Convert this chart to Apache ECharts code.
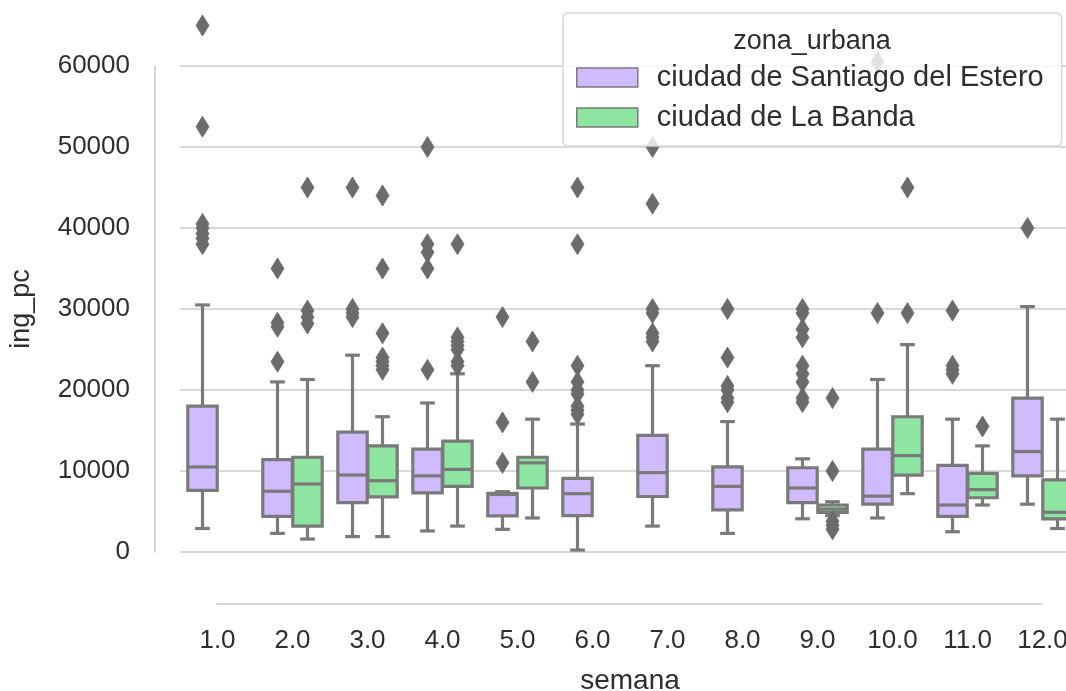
<!DOCTYPE html>
<html><head><meta charset="utf-8">
<script src="https://cdn.jsdelivr.net/npm/echarts@6/dist/echarts.min.js"></script>
<style>html,body{margin:0;padding:0;background:#fff}#c{width:1066px;height:691px}</style>
</head><body><div id="c"></div>
<script>
// ---- data ----
const weeks = ['1.0','2.0','3.0','4.0','5.0','6.0','7.0','8.0','9.0','10.0','11.0','12.0'];
const seriesNames = ['ciudad de Santiago del Estero', 'ciudad de La Banda'];
// [lower whisker, Q1, median, Q3, upper whisker]
const santiagoStats = [
  [2900, 7600, 10500, 18000, 30500],
  [2300, 4400, 7500, 11400, 21000],
  [1900, 6100, 9500, 14800, 24300],
  [2600, 7300, 9400, 12700, 18400],
  [2800, 4450, 7100, 7250, 7450],
  [240, 4500, 7200, 9100, 15800],
  [3200, 6850, 9800, 14400, 23000],
  [2300, 5200, 8100, 10500, 16100],
  [4100, 6100, 7900, 10400, 11500],
  [4200, 5900, 6900, 12700, 21300],
  [2500, 4400, 5800, 10700, 16400],
  [5900, 9400, 12400, 19000, 30300]
];
const bandaStats = [
  null,
  [1600, 3200, 8400, 11700, 21300],
  [1900, 6800, 8800, 13100, 16700],
  [3200, 8100, 10200, 13700, 22000],
  [4200, 7900, 11000, 11700, 16400],
  null,
  null,
  null,
  [4500, 4900, 5300, 5800, 6200],
  [7200, 9500, 11900, 16700, 25600],
  [5800, 6700, 7700, 9700, 13100],
  [2900, 4100, 4900, 8900, 16400]
];
const santiagoOutliers = [
  [65000, 52500, 40500, 40000, 39300, 38700, 38000],
  [35000, 28300, 27800, 23500],
  [45000, 30000, 29500, 29000],
  [50000, 38000, 37000, 35000, 22500],
  [29000, 16000, 11000],
  [45000, 38000, 23000, 21000, 20000, 19500, 18000, 17500, 17000],
  [50000, 43000, 30000, 29500, 27000, 26500, 26000],
  [30000, 24000, 20500, 20000, 19000, 18500],
  [30000, 29500, 27500, 26500, 23000, 22000, 21000, 19000, 18500],
  [60500, 29500],
  [29800, 23000, 22500, 22000],
  [40000]
];
const bandaOutliers = [
  [],
  [45000, 29800, 29000, 28200],
  [44000, 35000, 27000, 24000, 23500, 23000, 22500],
  [38000, 26500, 26000, 25500, 25000, 23500, 23000],
  [26000, 21000],
  [],
  [],
  [],
  [19000, 10000, 3800, 3300, 2800],
  [45000, 29500],
  [15500],
  []
];
const yMin = 0, yMax = 60000, yStep = 10000;

// ---- styling ----
const PURPLE = '#d0bbff', GREEN = '#8de5a1', GRAY = '#7a7a7a', FLIER = '#6b6b6b';
const FONT = 'Liberation Sans, Arial, sans-serif';
const TXT = '#2e2e2e';
const LW = 3.2;

function boxData(stats) {
  const out = [];
  stats.forEach((s, i) => { if (s) out.push([i].concat(s)); });
  return out;
}
function flierData(list) {
  const out = [];
  list.forEach((vals, i) => { (vals || []).forEach(v => out.push([i, v])); });
  return out;
}
function boxRenderer(side, fill) {
  return function (params, api) {
    const cat = api.value(0);
    const band = api.size([1, 0])[0];
    const xc = api.coord([cat, 0])[0] + side * 0.2 * band;
    const w = band * 0.4 * 0.98;
    const half = w / 2, capHalf = w / 4;
    const py = v => api.coord([cat, v])[1];
    const lo = py(api.value(1)), q1 = py(api.value(2)), md = py(api.value(3)),
          q3 = py(api.value(4)), hi = py(api.value(5));
    const ls = { stroke: GRAY, lineWidth: LW };
    return { type: 'group', children: [
      { type: 'line', shape: { x1: xc, y1: q1, x2: xc, y2: lo }, style: ls },
      { type: 'line', shape: { x1: xc, y1: q3, x2: xc, y2: hi }, style: ls },
      { type: 'line', shape: { x1: xc - capHalf, y1: lo, x2: xc + capHalf, y2: lo }, style: ls },
      { type: 'line', shape: { x1: xc - capHalf, y1: hi, x2: xc + capHalf, y2: hi }, style: ls },
      { type: 'rect', shape: { x: xc - half, y: q3, width: w, height: q1 - q3 }, style: { fill: fill, stroke: GRAY, lineWidth: LW } },
      { type: 'line', shape: { x1: xc - half, y1: md, x2: xc + half, y2: md }, style: ls }
    ] };
  };
}
function flierRenderer(side) {
  return function (params, api) {
    const cat = api.value(0);
    const band = api.size([1, 0])[0];
    const p = api.coord([cat, api.value(1)]);
    const x = p[0] + side * 0.2 * band, y = p[1];
    const hw = 6.5, hh = 10.5;
    return { type: 'polygon', shape: { points: [[x, y - hh], [x + hw, y], [x, y + hh], [x - hw, y]] },
             style: { fill: FLIER, stroke: FLIER, lineWidth: 0.8 } };
  };
}

const chart = echarts.init(document.getElementById('c'), null, { renderer: 'canvas' });
chart.setOption({
  animation: false,
  backgroundColor: '#ffffff',
  grid: [
    { left: 180, top: 66, width: 900, bottom: 139, containLabel: false, outerBoundsMode: 'none' },
    { left: 217, top: 603, width: 825, height: 1, containLabel: false, outerBoundsMode: 'none' }
  ],
  xAxis: [
    { type: 'category', data: weeks, gridIndex: 0,
      axisLine: { show: false }, axisTick: { show: false }, splitLine: { show: false },
      axisLabel: { margin: 76, fontSize: 26, color: TXT, fontFamily: FONT },
      name: 'semana', nameLocation: 'middle', nameGap: 115,
      nameTextStyle: { fontSize: 28, color: TXT, fontFamily: FONT } },
    { type: 'value', gridIndex: 1, min: 0, max: 1,
      axisLine: { show: true, lineStyle: { color: '#cccccc', width: 1.6 } },
      axisTick: { show: false }, axisLabel: { show: false }, splitLine: { show: false } }
  ],
  yAxis: [
    { type: 'value', gridIndex: 0, min: yMin, max: yMax, interval: yStep, offset: 25,
      axisLine: { show: true, lineStyle: { color: '#cccccc', width: 1.6 } },
      axisTick: { show: false },
      splitLine: { show: true, lineStyle: { color: '#cccccc', width: 1.6 } },
      axisLabel: { margin: 25, fontSize: 26, color: TXT, fontFamily: FONT, formatter: v => String(v) },
      name: 'ing_pc', nameLocation: 'middle', nameGap: 120,
      nameTextStyle: { fontSize: 27, color: TXT, fontFamily: FONT } },
    { type: 'value', gridIndex: 1, show: false }
  ],
  legend: {
    show: true, orient: 'vertical', left: 563, top: 13,
    padding: [50, 18, 14, 13], itemWidth: 61, itemHeight: 19, itemGap: 11,
    backgroundColor: 'rgba(255,255,255,0.8)', borderColor: '#d6d6d6', borderWidth: 1.5, borderRadius: 5,
    textStyle: { fontSize: 29, color: TXT, fontFamily: FONT, padding: [0, 0, 0, 14] },
    data: [
      { name: seriesNames[0], icon: 'rect', itemStyle: { color: PURPLE, borderColor: GRAY, borderWidth: 1.5 } },
      { name: seriesNames[1], icon: 'rect', itemStyle: { color: GREEN, borderColor: GRAY, borderWidth: 1.5 } }
    ]
  },
  graphic: [
    { type: 'text', z: 100, x: 812, y: 42,
      style: { text: 'zona_urbana', fill: TXT, font: '27px ' + FONT, align: 'center', verticalAlign: 'middle' } }
  ],
  series: [
    { name: seriesNames[0], type: 'custom', xAxisIndex: 0, yAxisIndex: 0, itemStyle: { color: PURPLE },
      renderItem: boxRenderer(-1, PURPLE), encode: { x: 0, y: [1, 2, 3, 4, 5] }, data: boxData(santiagoStats), z: 2 },
    { name: seriesNames[1], type: 'custom', xAxisIndex: 0, yAxisIndex: 0, itemStyle: { color: GREEN },
      renderItem: boxRenderer(1, GREEN), encode: { x: 0, y: [1, 2, 3, 4, 5] }, data: boxData(bandaStats), z: 2 },
    { name: seriesNames[0], type: 'custom', xAxisIndex: 0, yAxisIndex: 0, itemStyle: { color: PURPLE },
      renderItem: flierRenderer(-1), encode: { x: 0, y: 1 }, data: flierData(santiagoOutliers), z: 3 },
    { name: seriesNames[1], type: 'custom', xAxisIndex: 0, yAxisIndex: 0, itemStyle: { color: GREEN },
      renderItem: flierRenderer(1), encode: { x: 0, y: 1 }, data: flierData(bandaOutliers), z: 3 }
  ]
});
</script>
</body></html>
